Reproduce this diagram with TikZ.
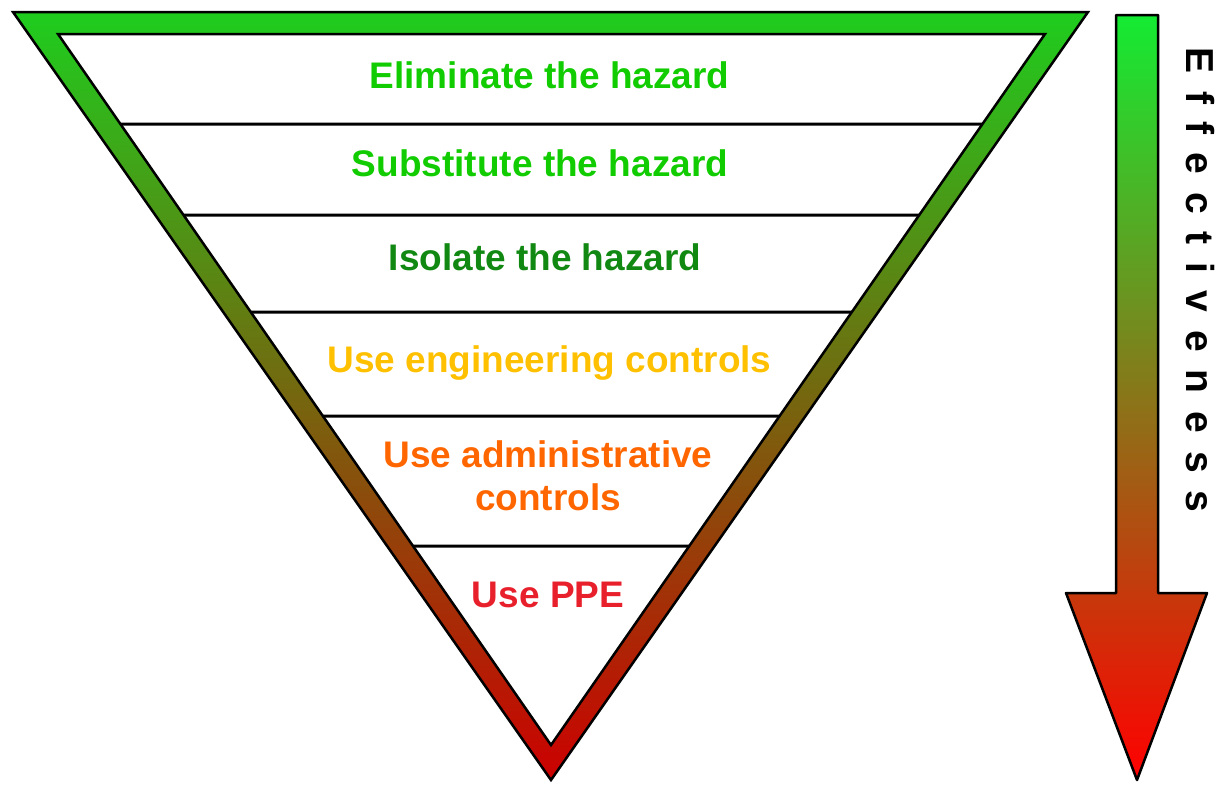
\documentclass[tikz,border=0pt]{standalone}
\usepackage{fontspec}
\setmainfont{Liberation Sans}
\definecolor{triG}{RGB}{30,205,30}
\definecolor{triM}{RGB}{128,62,10}
\definecolor{triR}{RGB}{204,0,0}
\definecolor{arrG}{RGB}{20,235,50}
\definecolor{arrM}{RGB}{122,120,32}
\definecolor{arrR}{RGB}{255,0,0}
\definecolor{lgreen}{RGB}{17,204,0}
\definecolor{dgreen}{RGB}{17,136,17}
\definecolor{lgold}{RGB}{255,192,0}
\definecolor{lorange}{RGB}{255,102,0}
\definecolor{lred}{RGB}{232,32,44}
\newcommand\trk{\hspace{17.8pt}}
\begin{document}
\begin{tikzpicture}[x=1pt,y=-1pt,
  lbl/.style={font=\fontsize{37}{43}\selectfont\bfseries, inner sep=0pt, anchor=base},
  divider/.style={line width=3pt, black},
  outline/.style={line width=2.5pt, black, line join=miter}]
\useasboundingbox (0,0) rectangle (1223,785);
% triangle
\coordinate (o1) at (13,12);
\coordinate (o2) at (1088,12);
\coordinate (o3) at (551,780);
\coordinate (i1) at (58,34);
\coordinate (i2) at (1045,34);
\coordinate (i3) at (551,745);
\shade[even odd rule, top color=triG, middle color=triM, bottom color=triR]
  (o1)--(o2)--(o3)--cycle (i1)--(i2)--(i3)--cycle;
\draw[outline] (o1)--(o2)--(o3)--cycle (i1)--(i2)--(i3)--cycle;
% dividers
\foreach \yy [count=\k] in {124,215,312,416,546} {
  \coordinate (L\k) at (intersection of i1--i3 and 0,\yy--10,\yy);
  \coordinate (R\k) at (intersection of i2--i3 and 0,\yy--10,\yy);
  \draw[divider] (L\k) -- (R\k);
}
% labels
\node[lbl, text=lgreen] (t1) at (549.5,88) {Eliminate the hazard};
\node[lbl, text=lgreen] (t2) at (540,176) {Substitute the hazard};
\node[lbl, text=dgreen] (t3) at (545,270) {Isolate the hazard};
\node[lbl, text=lgold] (t4) at (549.5,372) {Use engineering controls};
\node[lbl, text=lorange, anchor=north, align=center] (t5) at (548,440.5) {Use administrative\\controls};
\node[lbl, text=lred] (t6) at (548,607) {Use PPE};
% arrow
\coordinate (a1) at (1116,15);
\coordinate (a2) at (1158,15);
\coordinate (a3) at (1158,593);
\coordinate (a4) at (1207,593);
\coordinate (a5) at (1137,780);
\coordinate (a6) at (1066,593);
\coordinate (a7) at (1116,593);
\shadedraw[top color=arrG, middle color=arrM, bottom color=arrR, draw=black, line width=2.5pt, line join=round]
  (a1)--(a2)--(a3)--(a4)--(a5)--(a6)--(a7)--cycle;
\node[font=\fontsize{39}{45}\selectfont\bfseries, rotate=-90, anchor=base west, inner sep=0pt] (eff) at (1186,47)
  {E\trk f\trk f\trk e\trk c\trk t\trk i\trk v\trk e\trk n\trk e\trk s\trk s};
\end{tikzpicture}
\end{document}
